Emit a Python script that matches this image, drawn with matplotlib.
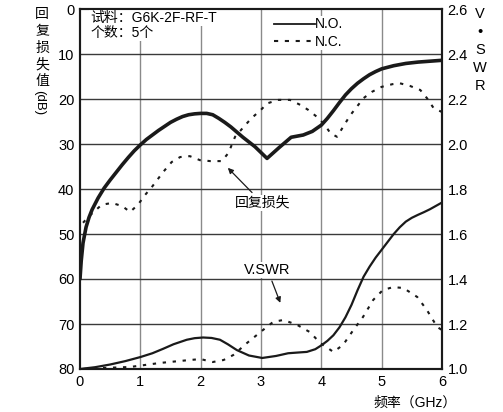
import matplotlib
matplotlib.use("Agg")
import matplotlib.pyplot as plt
from matplotlib.lines import Line2D

plt.rcParams['font.family'] = ['Liberation Sans', 'Noto Sans CJK SC', 'DejaVu Sans']
plt.rcParams['font.size'] = 10

# return loss (dB), N.O.
rl_no_f = [0, 0.02, 0.05, 0.1, 0.15, 0.2, 0.3, 0.4, 0.5, 0.6, 0.7, 0.8, 0.9, 1.0, 1.1,
           1.2, 1.3, 1.4, 1.5, 1.6, 1.7, 1.8, 1.9, 2.0, 2.1, 2.2, 2.3, 2.4, 2.5, 2.7, 2.9,
           3.1, 3.3, 3.5, 3.7, 3.85, 4.0, 4.1, 4.2, 4.3, 4.4, 4.5, 4.6, 4.7, 4.8, 4.9, 5.0,
           5.2, 5.4, 5.6, 5.8, 6.0]
rl_no = [60, 56, 52, 48.5, 46.3, 44.6, 42, 39.8, 38, 36.3, 34.6, 33, 31.5, 30.2, 29,
         28, 27, 26.1, 25.2, 24.5, 23.9, 23.5, 23.3, 23.2, 23.2, 23.5, 24.3, 25.2, 26.2, 28.5, 30.6,
         33.2, 30.8, 28.5, 28.0, 27.2, 25.8, 24.3, 22.6, 20.8, 19.1, 17.7, 16.5, 15.5, 14.6, 13.9, 13.3,
         12.6, 12.1, 11.8, 11.6, 11.4]

# return loss (dB), N.C.
rl_nc_f = [0.05, 0.17, 0.36, 0.53, 0.7, 0.83, 0.96, 1.08, 1.2, 1.38, 1.52, 1.66, 1.82, 1.99,
           2.16, 2.35, 2.46, 2.57, 2.74, 2.84, 3.0, 3.1, 3.28, 3.48, 3.65, 3.78, 3.93, 4.06,
           4.15, 4.26, 4.36, 4.48, 4.59, 4.7, 4.84, 5.0, 5.18, 5.3, 5.47, 5.64, 5.75, 5.86, 6.0]
rl_nc = [47.5, 45.8, 43.5, 43.1, 43.8, 45.1, 43.5, 41.3, 39.4, 36.2, 34, 32.9, 32.7, 33.6,
         33.8, 33.8, 32, 28.4, 25.8, 24.3, 22.4, 21, 20.2, 20.2, 21.3, 22.4, 24, 25.8,
         27.6, 28.4, 26.2, 23.6, 21.7, 19.8, 18.4, 17.3, 16.7, 16.5, 17.1, 18, 19.8, 22, 22.9]

# V.SWR, N.O.
vswr_no_f = [0, 0.25, 0.5, 0.75, 1.0, 1.2, 1.38, 1.55, 1.77, 1.9, 2.04, 2.18, 2.32, 2.45, 2.6,
             2.8, 3.02, 3.25, 3.45, 3.6, 3.76, 3.9, 4.0, 4.1, 4.2, 4.3, 4.4, 4.5, 4.6, 4.7,
             4.8, 4.9, 5.0, 5.1, 5.2, 5.3, 5.4, 5.5, 5.6, 5.7, 5.8, 5.9, 6.0]
vswr_no = [1.0, 1.008, 1.02, 1.035, 1.053, 1.07, 1.09, 1.11, 1.13, 1.137, 1.14, 1.138, 1.13, 1.11, 1.084,
           1.06, 1.049, 1.058, 1.07, 1.073, 1.076, 1.088, 1.105, 1.125, 1.15, 1.185, 1.23, 1.285, 1.35, 1.41,
           1.455, 1.495, 1.53, 1.565, 1.6, 1.63, 1.655, 1.672, 1.685, 1.697, 1.71, 1.725, 1.74]

# V.SWR, N.C.
vswr_nc_f = [0.05, 0.33, 0.83, 1.33, 1.82, 2.0, 2.2, 2.38, 2.54, 2.77, 2.99, 3.2, 3.37, 3.6,
             3.81, 3.98, 4.2, 4.36, 4.53, 4.69, 4.86, 5.02, 5.19, 5.36, 5.59, 5.75, 5.92, 6.0]
vswr_nc = [1.0, 1.004, 1.009, 1.027, 1.04, 1.044, 1.031, 1.04, 1.062, 1.116, 1.164, 1.209,
           1.218, 1.196, 1.164, 1.116, 1.076, 1.107, 1.173, 1.231, 1.307, 1.351, 1.364, 1.36,
           1.32, 1.262, 1.187, 1.173]

x_ticks = [0, 1, 2, 3, 4, 5, 6]
db_ticks = [0, 10, 20, 30, 40, 50, 60, 70, 80]
vswr_ticks = [1.0, 1.2, 1.4, 1.6, 1.8, 2.0, 2.2, 2.4, 2.6]

W, H = 503, 412
fig = plt.figure(figsize=(W / 100, H / 100), dpi=100)
ax = fig.add_axes([80 / W, 1 - 369 / H, 362 / W, 360 / H])

dotted = (0, (1.6, 3.2))

ax.plot(rl_no_f, rl_no, color='#1a1a1a', lw=2.6, solid_capstyle='round',
        solid_joinstyle='round', zorder=3)
ax.plot(rl_nc_f, rl_nc, color='#1a1a1a', lw=1.5, linestyle=dotted, zorder=3)

ax.set_xlim(0, 6)
ax.set_ylim(80, 0)
ax.set_xticks(x_ticks)
ax.set_yticks(db_ticks)
ax.tick_params(length=0, pad=4, labelsize=10.5)
for xv in x_ticks[1:-1]:
    ax.axvline(xv, color='#8a8a8a', lw=1.0, zorder=1)
for yv in db_ticks[1:-1]:
    ax.axhline(yv, color='#3a3a3a', lw=1.0, zorder=1)
for sp in ax.spines.values():
    sp.set_linewidth(1.5)
    sp.set_color('#1a1a1a')

ax2 = ax.twinx()
ax2.plot(vswr_no_f, vswr_no, color='#1a1a1a', lw=1.6, solid_joinstyle='round', zorder=3)
ax2.plot(vswr_nc_f, vswr_nc, color='#1a1a1a', lw=1.5, linestyle=dotted, zorder=3)
ax2.set_ylim(1.0, 2.6)
ax2.set_yticks(vswr_ticks)
ax2.set_yticklabels([f"{v:.1f}" for v in vswr_ticks])
ax2.tick_params(length=0, pad=4, labelsize=10.5)
for sp in ax2.spines.values():
    sp.set_linewidth(1.5)
    sp.set_color('#1a1a1a')

# sample info
box = dict(facecolor='white', edgecolor='none', pad=1)
ax.text(0.17, 1.9, "试料：G6K-2F-RF-T", ha='left', va='center', fontsize=10, bbox=box, zorder=5)
ax.text(0.17, 5.3, "个数：5个", ha='left', va='center', fontsize=10, bbox=box, zorder=5)

handles = [Line2D([], [], color='#1a1a1a', lw=1.3),
           Line2D([], [], color='#1a1a1a', lw=1.5, linestyle=(0, (2, 3.2)))]
leg = ax.legend(handles, ["N.O.", "N.C."], loc='upper left',
                bbox_to_anchor=((273 - 80) / 362, 1 - (16 - 9) / 360),
                frameon=True, fancybox=False, edgecolor='none', facecolor='white', framealpha=1,
                borderpad=0.1, borderaxespad=0, handlelength=2.9, handletextpad=0.05,
                labelspacing=0.25, fontsize=10)
leg.set_zorder(6)

arrow = dict(arrowstyle='-|>', color='#1a1a1a', lw=0.9, mutation_scale=8, shrinkA=2, shrinkB=0)
ax.annotate("回复损失", xy=(2.45, 35.3), xytext=(3.02, 43.1), ha='center', va='center',
            fontsize=10, bbox=box, arrowprops=arrow, zorder=5)
ax.annotate("V.SWR", xy=(3.32, 65.3), xytext=(3.11, 58.0), ha='center', va='center',
            fontsize=10.5, bbox=box, arrowprops=arrow, zorder=5)

# axis titles, stacked vertically
for ch, yp in zip("回复损失值", [14, 31, 48, 65, 81]):
    fig.text(42 / W, 1 - yp / H, ch, ha='center', va='center', fontsize=10)
fig.text(39 / W, 1 - 103 / H, "(dB)", ha='center', va='center', fontsize=9.5, rotation=-90)
for ch, yp in zip(["V", "•", "S", "W", "R"], [14, 32, 50, 68, 86]):
    fig.text(480 / W, 1 - yp / H, ch, ha='center', va='center', fontsize=10.5)
fig.text(415 / W, 1 - 403 / H, "频率（GHz）", ha='center', va='center', fontsize=10)

fig.savefig("out.png", dpi=100)
